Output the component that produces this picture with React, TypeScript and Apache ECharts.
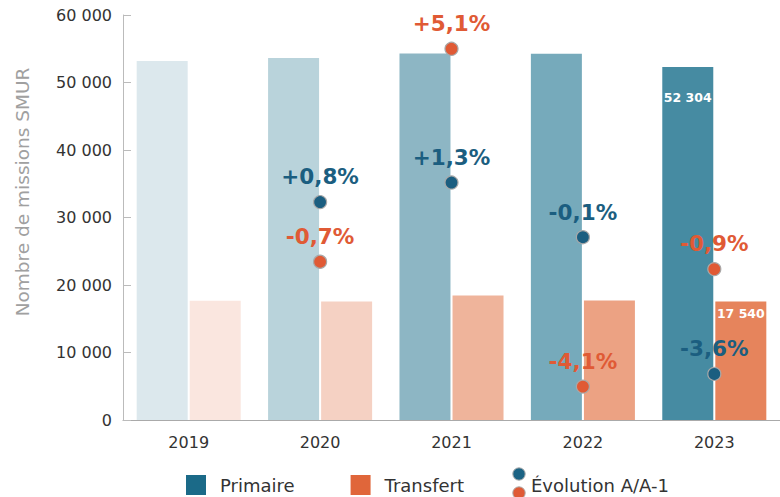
import React, { useEffect, useRef } from 'react';
import * as echarts from 'echarts';

const years = ['2019', '2020', '2021', '2022', '2023'];
const primaire = [53189, 53614, 54311, 54257, 52304];
const transfert = [17684, 17560, 18456, 17699, 17540];
const evolPrimaire: (number | string)[] = ['-', 0.8, 1.3, -0.1, -3.6];
const evolTransfert: (number | string)[] = ['-', -0.7, 5.1, -4.1, -0.9];
const primaireColors = ['#dce8ed', '#b9d3db', '#8db6c4', '#76aabb', '#468ba2'];
const transfertColors = ['#fae6df', '#f5d1c3', '#efb49b', '#eca283', '#e6845c'];
const showValue = [false, false, false, false, true];

const BLUE = '#1b5e80';
const ORANGE = '#e05a35';
const FONT = 'DejaVu Sans';

const fmtNum = (v: number) => String(Math.round(v)).replace(/\B(?=(\d{3})+(?!\d))/g, ' ');
const fmtPct = (v: number) => (v > 0 ? '+' : '') + v.toFixed(1).replace('.', ',') + '%';

const evolIconSvg =
  "<svg xmlns='http://www.w3.org/2000/svg' width='14' height='36' viewBox='0 0 14 36'>" +
  "<circle cx='7' cy='7' r='6.2' fill='#1b6384' stroke='#aaaaaa' stroke-width='1'/>" +
  "<circle cx='7' cy='26' r='6.2' fill='#e05a35' stroke='#aaaaaa' stroke-width='1'/>" +
  '</svg>';
const evolIcon = 'image://data:image/svg+xml;utf8,' + encodeURIComponent(evolIconSvg);

export default function App() {
  const ref = useRef<HTMLDivElement>(null);
  useEffect(() => {
    document.body.style.margin = '0';
    if (!ref.current) return;
    const chart = echarts.init(ref.current, undefined, { renderer: 'svg' });
    const pctLabel = (color: string) => ({
      show: true,
      position: 'top',
      distance: 7,
      fontFamily: FONT,
      fontSize: 21.5,
      fontWeight: 'bold',
      color,
      opacity: 1,
      formatter: (p: any) => fmtPct(Number(p.value)),
    });
    chart.setOption({
      animation: false,
      textStyle: { fontFamily: FONT },
      grid: { left: 123, right: 0, top: 15, bottom: 77 },
      graphic: [
        {
          type: 'text',
          x: 22,
          y: 192,
          rotation: Math.PI / 2,
          style: {
            text: 'Nombre de missions SMUR',
            fontFamily: FONT,
            fontSize: 18.5,
            fill: '#a0a0a0',
            align: 'center',
            verticalAlign: 'middle',
          },
        },
      ],
      legend: [
        {
          data: ['Primaire', 'Transfert'],
          left: 186,
          top: 475,
          padding: 0,
          itemWidth: 20,
          itemHeight: 20,
          icon: 'rect',
          itemGap: 56,
          selectedMode: false,
          textStyle: { fontFamily: FONT, fontSize: 18, color: '#333', padding: [0, 0, 0, 9] },
        },
        {
          data: [{ name: 'Évolution A/A-1', icon: evolIcon }],
          left: 512,
          top: 467,
          padding: 0,
          itemWidth: 14,
          itemHeight: 36,
          selectedMode: false,
          textStyle: { fontFamily: FONT, fontSize: 18, color: '#333' },
        },
      ],
      xAxis: {
        type: 'category',
        data: years,
        axisLine: { lineStyle: { color: '#aaaaaa' } },
        axisTick: { inside: true, length: 9, lineStyle: { color: '#aaaaaa' } },
        axisLabel: { fontFamily: FONT, fontSize: 16, color: '#333', margin: 14 },
      },
      yAxis: [
        {
          type: 'value',
          min: 0,
          max: 60000,
          interval: 10000,
          axisLine: { show: true, lineStyle: { color: '#bbbbbb' } },
          axisTick: { show: true, inside: true, length: 8, lineStyle: { color: '#bbbbbb' } },
          splitLine: { show: false },
          axisLabel: {
            fontFamily: FONT,
            fontSize: 16,
            color: '#333',
            margin: 11,
            padding: [10, 0, 0, 0],
            formatter: (v: number) => fmtNum(v),
          },
        },
        { type: 'value', min: -4.78, max: 5.59, show: false },
        { type: 'value', min: -5.01, max: 6.02, show: false },
      ],
      series: [
        {
          name: 'Primaire',
          type: 'bar',
          barWidth: 51,
          barGap: '4%',
          itemStyle: { color: '#1b6a88' },
          data: primaire.map((v, i) => ({
            value: v,
            itemStyle: { color: primaireColors[i] },
            label: {
              show: showValue[i],
              position: 'insideTop',
              offset: [0, 19],
              fontFamily: FONT,
              fontSize: 12.5,
              fontWeight: 'bold',
              color: '#fff',
              formatter: (p: any) => fmtNum(p.value),
            },
          })),
        },
        {
          name: 'Transfert',
          type: 'bar',
          barWidth: 51,
          barGap: '4%',
          itemStyle: { color: '#e0663a' },
          data: transfert.map((v, i) => ({
            value: v,
            itemStyle: { color: transfertColors[i] },
            label: {
              show: showValue[i],
              position: 'insideTop',
              fontFamily: FONT,
              fontSize: 12.5,
              fontWeight: 'bold',
              color: '#fff',
              formatter: (p: any) => fmtNum(p.value),
            },
          })),
        },
        {
          name: 'Évolution A/A-1',
          type: 'scatter',
          yAxisIndex: 1,
          symbolSize: 13,
          z: 5,
          itemStyle: { color: BLUE, opacity: 1, borderColor: '#a8a8a8', borderWidth: 1.2 },
          label: pctLabel(BLUE),
          data: evolPrimaire,
        },
        {
          name: 'Évolution Transfert',
          type: 'scatter',
          yAxisIndex: 2,
          symbolSize: 13,
          z: 5,
          itemStyle: { color: ORANGE, opacity: 1, borderColor: '#a8a8a8', borderWidth: 1.2 },
          label: pctLabel(ORANGE),
          data: evolTransfert,
        },
      ],
    });
    return () => chart.dispose();
  }, []);
  return <div ref={ref} style={{ width: 780, height: 497 }} />;
}
